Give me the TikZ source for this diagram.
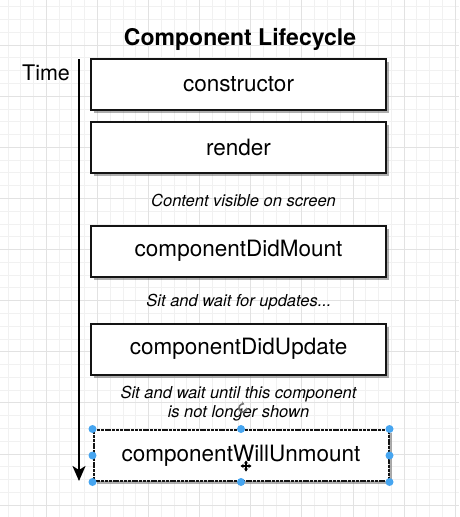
\documentclass[tikz,border=0pt]{standalone}
\usepackage{fontspec}
\setmainfont{TeX Gyre Heros}
\usetikzlibrary{arrows.meta,shadows}

\definecolor{gridminor}{RGB}{241,241,241}
\definecolor{gridmajor}{RGB}{226,226,226}
\definecolor{handle}{RGB}{70,165,240}

\begin{document}
\begin{tikzpicture}[x=1pt, y=-1pt,
    stage/.style={draw=black!92, line width=2pt, fill=white, minimum width=295pt,
        minimum height=51pt, inner sep=0pt, font=\fontsize{22.5}{27}\selectfont,
        drop shadow={shadow xshift=3pt, shadow yshift=-3pt, opacity=.45, fill=black!70}},
    picked/.style={dash pattern=on 3pt off 0.8pt},
    note/.style={font=\fontsize{16.5}{19}\selectfont\itshape, align=center},
    grip/.style={circle, fill=handle, inner sep=0pt, minimum size=8pt}]
        \useasboundingbox (0,0) rectangle (459,517);
        % background grid
        \foreach \i in {0,...,35} {
            \draw[gridminor, line width=0.8pt] ({7.9+12.78*\i},0) -- ++(0,517);
        }
        \foreach \i in {0,...,40} {
            \draw[gridminor, line width=0.8pt] (0,{6.7+12.78*\i}) -- ++(459,0);
        }
        \foreach \i in {0,...,8} {
            \draw[gridmajor, line width=0.8pt] ({46.2+51.12*\i},0) -- ++(0,517);
        }
        \foreach \i in {0,...,9} {
            \draw[gridmajor, line width=0.8pt] (0,{45+51.12*\i}) -- ++(459,0);
        }

        \node[font=\bfseries\fontsize{23}{27}\selectfont] (title) at (240,39) {Component Lifecycle};
        \node[font=\fontsize{21.5}{26}\selectfont] (time) at (46,73) {Time};

        % time axis
        \coordinate (tstart) at (79,59);
        \coordinate (tend) at (79,481);
        \draw[line width=2pt, -{Stealth[length=15pt, width=13pt, inset=4pt]}] (tstart) -- (tend);

        \node[stage] (ctor) at (238.5,84) {constructor};
        \node[stage] (render) at (238.5,147.5) {render};
        \node[note] (visible) at (243.5,200) {Content visible on screen};
        \node[stage] (mount) at (238.5,251) {componentDidMount};
        \node[note] (wait) at (239,302) {Sit and wait for updates...};
        \node[stage] (update) at (238.5,349) {componentDidUpdate};
        \node[note] (until) at (238.5,404) {Sit and wait until this component\\is not longer shown};
        \node[stage, picked] (unmount) at (241,455.5) {componentWillUnmount};

        % selection handles
        \foreach \a [count=\k] in {north west, north, north east, east, south east, south, south west, west} {
            \node[grip] (grip\k) at (unmount.\a) {};
        }

        % cursors
        \draw[black!55, line width=1.6pt, -{Stealth[length=3pt, width=4pt]}] (247,408) arc (0:290:4);
        \coordinate (mv) at (246,466);
        \draw[line width=1.1pt, {Stealth[length=3pt, width=4pt]}-{Stealth[length=3pt, width=4pt]}] ([xshift=-5.5pt]mv) -- ([xshift=5.5pt]mv);
        \draw[line width=1.1pt, {Stealth[length=3pt, width=4pt]}-{Stealth[length=3pt, width=4pt]}] ([yshift=-5.5pt]mv) -- ([yshift=5.5pt]mv);
\end{tikzpicture}
\end{document}
